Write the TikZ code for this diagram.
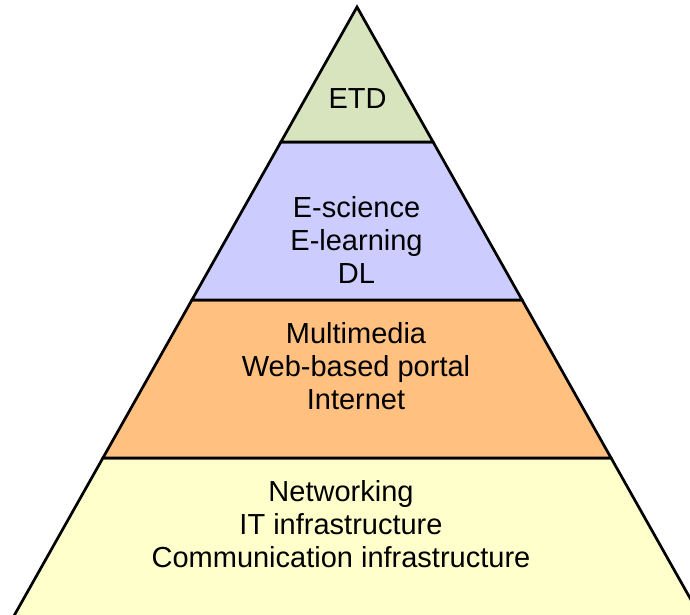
\documentclass[tikz,border=0pt]{standalone}
\usepackage{fontspec}
\setmainfont{Liberation Sans}

\definecolor{etdgreen}{HTML}{D7E4BD}
\definecolor{scienceblue}{HTML}{CCCCFF}
\definecolor{mediaorange}{HTML}{FFC080}
\definecolor{netyellow}{HTML}{FFFFCC}

\tikzset{
  band/.style={draw=black, line width=2.7pt, line join=miter},
  bandtext/.style={align=center, inner sep=0pt, font=\fontsize{29}{33}\selectfont}
}

\begin{document}
\begin{tikzpicture}[x=1pt, y=-1pt]

\useasboundingbox (0,0) rectangle (690,614);
\clip (0,0) rectangle (690,614);

\draw[band, fill=netyellow] (102.9,458.0) -- (611.1,458.0) -- (708.0,630.0) -- (6.0,630.0) -- cycle;
\draw[band, fill=mediaorange] (191.9,300.0) -- (522.1,300.0) -- (611.1,458.0) -- (102.9,458.0) -- cycle;
\draw[band, fill=scienceblue] (280.9,142.0) -- (433.1,142.0) -- (522.1,300.0) -- (191.9,300.0) -- cycle;
\draw[band, fill=etdgreen] (357.0,7.0) -- (433.1,142.0) -- (280.9,142.0) -- cycle;

\node[bandtext] (etd) at (357.5,98.5) {ETD};
\node[bandtext] (science) at (356.5,240.0) {E-science\\E-learning\\DL};
\node[bandtext] (media) at (356.0,366.5) {Multimedia\\Web-based portal\\Internet};
\node[bandtext] (network) at (341.0,524.0) {Networking\\IT infrastructure\\Communication infrastructure};

\end{tikzpicture}
\end{document}
